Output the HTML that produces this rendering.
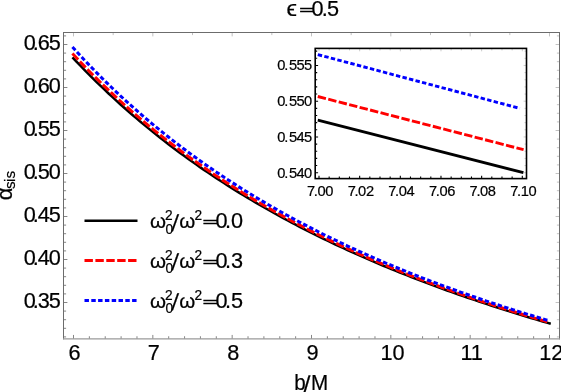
<!DOCTYPE html><html><head><meta charset="utf-8"><style>html,body{margin:0;padding:0;background:#fff}body{width:561px;height:392px;overflow:hidden}svg{will-change:transform}</style></head><body><svg width="561" height="392" viewBox="0 0 561 392" style="display:block;font-family:'Liberation Sans',sans-serif">
<rect width="561" height="392" fill="#fff"/>
<path d="M73.50,338.85 v-3.90 M89.37,338.85 v-2.60 M105.23,338.85 v-2.60 M121.10,338.85 v-2.60 M136.97,338.85 v-2.60 M152.83,338.85 v-3.90 M168.70,338.85 v-2.60 M184.57,338.85 v-2.60 M200.43,338.85 v-2.60 M216.30,338.85 v-2.60 M232.17,338.85 v-3.90 M248.03,338.85 v-2.60 M263.90,338.85 v-2.60 M279.77,338.85 v-2.60 M295.63,338.85 v-2.60 M311.50,338.85 v-3.90 M327.37,338.85 v-2.60 M343.23,338.85 v-2.60 M359.10,338.85 v-2.60 M374.97,338.85 v-2.60 M390.83,338.85 v-3.90 M406.70,338.85 v-2.60 M422.57,338.85 v-2.60 M438.43,338.85 v-2.60 M454.30,338.85 v-2.60 M470.16,338.85 v-3.90 M486.03,338.85 v-2.60 M501.90,338.85 v-2.60 M517.76,338.85 v-2.60 M533.63,338.85 v-2.60 M549.50,338.85 v-3.90 M63.50,336.90 h2.60 M63.50,328.30 h2.60 M63.50,319.70 h2.60 M63.50,311.10 h2.60 M63.50,302.50 h3.90 M63.50,293.90 h2.60 M63.50,285.30 h2.60 M63.50,276.70 h2.60 M63.50,268.10 h2.60 M63.50,259.50 h3.90 M63.50,250.90 h2.60 M63.50,242.30 h2.60 M63.50,233.70 h2.60 M63.50,225.10 h2.60 M63.50,216.50 h3.90 M63.50,207.90 h2.60 M63.50,199.30 h2.60 M63.50,190.70 h2.60 M63.50,182.10 h2.60 M63.50,173.50 h3.90 M63.50,164.90 h2.60 M63.50,156.30 h2.60 M63.50,147.70 h2.60 M63.50,139.10 h2.60 M63.50,130.50 h3.90 M63.50,121.90 h2.60 M63.50,113.30 h2.60 M63.50,104.70 h2.60 M63.50,96.10 h2.60 M63.50,87.50 h3.90 M63.50,78.90 h2.60 M63.50,70.30 h2.60 M63.50,61.70 h2.60 M63.50,53.10 h2.60 M63.50,44.50 h3.90 M63.50,35.90 h2.60" stroke="#444" stroke-width="0.65" fill="none"/>
<path d="M73.50,32.50 v3.90 M113.17,32.50 v2.60 M152.83,32.50 v3.90 M192.50,32.50 v2.60 M232.17,32.50 v3.90 M271.83,32.50 v2.60 M311.50,32.50 v3.90 M351.17,32.50 v2.60 M390.83,32.50 v3.90 M430.50,32.50 v2.60 M470.16,32.50 v3.90 M509.83,32.50 v2.60 M549.50,32.50 v3.90 M559.50,336.90 h-2.60 M559.50,328.30 h-2.60 M559.50,319.70 h-2.60 M559.50,311.10 h-2.60 M559.50,302.50 h-3.90 M559.50,293.90 h-2.60 M559.50,285.30 h-2.60 M559.50,276.70 h-2.60 M559.50,268.10 h-2.60 M559.50,259.50 h-3.90 M559.50,250.90 h-2.60 M559.50,242.30 h-2.60 M559.50,233.70 h-2.60 M559.50,225.10 h-2.60 M559.50,216.50 h-3.90 M559.50,207.90 h-2.60 M559.50,199.30 h-2.60 M559.50,190.70 h-2.60 M559.50,182.10 h-2.60 M559.50,173.50 h-3.90 M559.50,164.90 h-2.60 M559.50,156.30 h-2.60 M559.50,147.70 h-2.60 M559.50,139.10 h-2.60 M559.50,130.50 h-3.90 M559.50,121.90 h-2.60 M559.50,113.30 h-2.60 M559.50,104.70 h-2.60 M559.50,96.10 h-2.60 M559.50,87.50 h-3.90 M559.50,78.90 h-2.60 M559.50,70.30 h-2.60 M559.50,61.70 h-2.60 M559.50,53.10 h-2.60 M559.50,44.50 h-3.90 M559.50,35.90 h-2.60" stroke="#777" stroke-width="0.45" fill="none"/>
<path d="M63.50,32.00 V339.35 M559.50,32.00 V339.35 M63.00,32.50 H560.00" stroke="#6c6c6c" stroke-width="1" fill="none"/>
<path d="M63.00,338.85 H560.00" stroke="#9a9a9a" stroke-width="1.2" fill="none"/>
<path d="M72.43,57.30 L76.42,61.53 L80.40,65.70 L84.39,69.81 L88.37,73.86 L92.36,77.85 L96.35,81.78 L100.33,85.65 L104.32,89.47 L108.30,93.24 L112.29,96.95 L116.28,100.61 L120.26,104.22 L124.25,107.78 L128.24,111.29 L132.22,114.76 L136.21,118.17 L140.19,121.54 L144.18,124.87 L148.17,128.15 L152.15,131.38 L156.14,134.58 L160.12,137.73 L164.11,140.84 L168.10,143.91 L172.08,146.94 L176.07,149.94 L180.06,152.89 L184.04,155.81 L188.03,158.69 L192.01,161.53 L196.00,164.34 L199.99,167.12 L203.97,169.86 L207.96,172.56 L211.94,175.24 L215.93,177.88 L219.92,180.49 L223.90,183.07 L227.89,185.62 L231.88,188.13 L235.86,190.62 L239.85,193.08 L243.83,195.51 L247.82,197.91 L251.81,200.29 L255.79,202.64 L259.78,204.96 L263.76,207.25 L267.75,209.52 L271.74,211.77 L275.72,213.98 L279.71,216.18 L283.70,218.35 L287.68,220.49 L291.67,222.62 L295.65,224.72 L299.64,226.79 L303.63,228.85 L307.61,230.88 L311.60,232.89 L315.58,234.88 L319.57,236.85 L323.56,238.80 L327.54,240.73 L331.53,242.63 L335.52,244.52 L339.50,246.39 L343.49,248.24 L347.47,250.07 L351.46,251.88 L355.45,253.68 L359.43,255.45 L363.42,257.21 L367.40,258.95 L371.39,260.68 L375.38,262.38 L379.36,264.07 L383.35,265.75 L387.34,267.40 L391.32,269.04 L395.31,270.67 L399.29,272.28 L403.28,273.88 L407.27,275.45 L411.25,277.02 L415.24,278.57 L419.22,280.10 L423.21,281.63 L427.20,283.13 L431.18,284.63 L435.17,286.11 L439.16,287.57 L443.14,289.02 L447.13,290.46 L451.11,291.89 L455.10,293.30 L459.09,294.70 L463.07,296.09 L467.06,297.47 L471.04,298.83 L475.03,300.18 L479.02,301.52 L483.00,302.85 L486.99,304.17 L490.98,305.48 L494.96,306.77 L498.95,308.05 L502.93,309.33 L506.92,310.59 L510.91,311.84 L514.89,313.08 L518.88,314.31 L522.86,315.53 L526.85,316.74 L530.84,317.94 L534.82,319.13 L538.81,320.30 L542.80,321.47 L546.78,322.63 L550.77,323.79" fill="none" stroke="#000" stroke-width="2.50"/>
<path d="M72.43,53.48 L76.39,57.75 L80.34,61.95 L84.30,66.09 L88.26,70.17 L92.21,74.19 L96.17,78.15 L100.13,82.05 L104.09,85.90 L108.04,89.69 L112.00,93.43 L115.96,97.12 L119.91,100.75 L123.87,104.34 L127.83,107.88 L131.78,111.36 L135.74,114.80 L139.70,118.20 L143.66,121.55 L147.61,124.85 L151.57,128.11 L155.53,131.33 L159.48,134.50 L163.44,137.63 L167.40,140.73 L171.36,143.78 L175.31,146.79 L179.27,149.77 L183.23,152.71 L187.18,155.61 L191.14,158.47 L195.10,161.30 L199.06,164.09 L203.01,166.85 L206.97,169.58 L210.93,172.27 L214.88,174.93 L218.84,177.56 L222.80,180.15 L226.75,182.72 L230.71,185.26 L234.67,187.76 L238.63,190.24 L242.58,192.68 L246.54,195.10 L250.50,197.49 L254.45,199.86 L258.41,202.20 L262.37,204.51 L266.33,206.79 L270.28,209.05 L274.24,211.28 L278.20,213.49 L282.15,215.68 L286.11,217.84 L290.07,219.97 L294.02,222.09 L297.98,224.18 L301.94,226.25 L305.90,228.29 L309.85,230.32 L313.81,232.32 L317.77,234.30 L321.72,236.26 L325.68,238.21 L329.64,240.13 L333.60,242.03 L337.55,243.91 L341.51,245.77 L345.47,247.61 L349.42,249.44 L353.38,251.24 L357.34,253.03 L361.29,254.80 L365.25,256.55 L369.21,258.29 L373.17,260.01 L377.12,261.71 L381.08,263.39 L385.04,265.06 L388.99,266.71 L392.95,268.35 L396.91,269.97 L400.87,271.58 L404.82,273.17 L408.78,274.74 L412.74,276.30 L416.69,277.85 L420.65,279.38 L424.61,280.90 L428.56,282.40 L432.52,283.89 L436.48,285.37 L440.44,286.83 L444.39,288.28 L448.35,289.71 L452.31,291.14 L456.26,292.55 L460.22,293.94 L464.18,295.33 L468.14,296.70 L472.09,298.06 L476.05,299.41 L480.01,300.75 L483.96,302.08 L487.92,303.39 L491.88,304.69 L495.83,305.99 L499.79,307.27 L503.75,308.54 L507.71,309.80 L511.66,311.04 L515.62,312.28 L519.58,313.51 L523.53,314.73 L527.49,315.93 L531.45,317.13 L535.41,318.32 L539.36,319.50 L543.32,320.67 L547.28,321.82" fill="none" stroke="#f00" stroke-width="3.00" stroke-dasharray="8.4 2.5"/>
<path d="M72.43,46.96 L76.40,51.35 L80.38,55.67 L84.35,59.93 L88.33,64.13 L92.30,68.26 L96.27,72.33 L100.25,76.34 L104.22,80.30 L108.20,84.19 L112.17,88.03 L116.15,91.82 L120.12,95.55 L124.09,99.23 L128.07,102.86 L132.04,106.44 L136.02,109.96 L139.99,113.44 L143.97,116.88 L147.94,120.26 L151.91,123.60 L155.89,126.90 L159.86,130.15 L163.84,133.35 L167.81,136.52 L171.79,139.64 L175.76,142.73 L179.73,145.77 L183.71,148.78 L187.68,151.74 L191.66,154.67 L195.63,157.56 L199.61,160.42 L203.58,163.24 L207.55,166.02 L211.53,168.77 L215.50,171.49 L219.48,174.17 L223.45,176.82 L227.42,179.44 L231.40,182.03 L235.37,184.59 L239.35,187.11 L243.32,189.61 L247.30,192.08 L251.27,194.51 L255.24,196.92 L259.22,199.31 L263.19,201.66 L267.17,203.99 L271.14,206.29 L275.12,208.57 L279.09,210.82 L283.06,213.04 L287.04,215.24 L291.01,217.42 L294.99,219.57 L298.96,221.70 L302.94,223.81 L306.91,225.89 L310.88,227.95 L314.86,229.99 L318.83,232.00 L322.81,234.00 L326.78,235.97 L330.76,237.93 L334.73,239.86 L338.70,241.77 L342.68,243.67 L346.65,245.54 L350.63,247.39 L354.60,249.23 L358.58,251.05 L362.55,252.84 L366.52,254.62 L370.50,256.39 L374.47,258.13 L378.45,259.86 L382.42,261.57 L386.39,263.27 L390.37,264.94 L394.34,266.60 L398.32,268.25 L402.29,269.88 L406.27,271.49 L410.24,273.09 L414.21,274.68 L418.19,276.24 L422.16,277.80 L426.14,279.34 L430.11,280.86 L434.09,282.37 L438.06,283.87 L442.03,285.35 L446.01,286.82 L449.98,288.28 L453.96,289.72 L457.93,291.15 L461.91,292.57 L465.88,293.97 L469.85,295.36 L473.83,296.74 L477.80,298.11 L481.78,299.46 L485.75,300.81 L489.73,302.14 L493.70,303.46 L497.67,304.77 L501.65,306.06 L505.62,307.35 L509.60,308.62 L513.57,309.89 L517.55,311.14 L521.52,312.38 L525.49,313.62 L529.47,314.84 L533.44,316.05 L537.42,317.25 L541.39,318.45 L545.37,319.63 L549.34,320.80" fill="none" stroke="#00f" stroke-width="3.00" stroke-dasharray="4.45 2.35"/>
<rect x="315.2" y="48.4" width="211.3" height="130.2" fill="#fff" stroke="none"/>
<path d="M317.8,120.1 L523.4,172.7" fill="none" stroke="#000" stroke-width="2.90"/>
<path d="M317.8,96.5 L523.6,149.7" fill="none" stroke="#f00" stroke-width="2.90" stroke-dasharray="8.4 2.4"/>
<path d="M317.8,54.6 L519.8,108.35" fill="none" stroke="#00f" stroke-width="2.90" stroke-dasharray="4.42 2.32"/>
<path d="M319.00,178.60 v-2.90 M329.16,178.60 v-2.00 M339.33,178.60 v-2.00 M349.49,178.60 v-2.00 M359.66,178.60 v-2.90 M369.83,178.60 v-2.00 M379.99,178.60 v-2.00 M390.16,178.60 v-2.00 M400.32,178.60 v-2.90 M410.48,178.60 v-2.00 M420.65,178.60 v-2.00 M430.81,178.60 v-2.00 M440.98,178.60 v-2.90 M451.15,178.60 v-2.00 M461.31,178.60 v-2.00 M471.48,178.60 v-2.00 M481.64,178.60 v-2.90 M491.80,178.60 v-2.00 M501.97,178.60 v-2.00 M512.13,178.60 v-2.00 M522.30,178.60 v-2.90 M315.20,172.70 h2.90 M315.20,165.55 h2.00 M315.20,158.40 h2.00 M315.20,151.25 h2.00 M315.20,144.10 h2.00 M315.20,136.95 h2.90 M315.20,129.80 h2.00 M315.20,122.65 h2.00 M315.20,115.50 h2.00 M315.20,108.35 h2.00 M315.20,101.20 h2.90 M315.20,94.05 h2.00 M315.20,86.90 h2.00 M315.20,79.75 h2.00 M315.20,72.60 h2.00 M315.20,65.45 h2.90 M315.20,58.30 h2.00 M315.20,51.15 h2.00" stroke="#000" stroke-width="1.1" fill="none"/>
<path d="M319.00,48.40 v2.90 M329.16,48.40 v2.00 M339.33,48.40 v2.00 M349.49,48.40 v2.00 M359.66,48.40 v2.90 M369.83,48.40 v2.00 M379.99,48.40 v2.00 M390.16,48.40 v2.00 M400.32,48.40 v2.90 M410.48,48.40 v2.00 M420.65,48.40 v2.00 M430.81,48.40 v2.00 M440.98,48.40 v2.90 M451.15,48.40 v2.00 M461.31,48.40 v2.00 M471.48,48.40 v2.00 M481.64,48.40 v2.90 M491.80,48.40 v2.00 M501.97,48.40 v2.00 M512.13,48.40 v2.00 M522.30,48.40 v2.90 M526.50,172.70 h-2.90 M526.50,165.55 h-2.00 M526.50,158.40 h-2.00 M526.50,151.25 h-2.00 M526.50,144.10 h-2.00 M526.50,136.95 h-2.90 M526.50,129.80 h-2.00 M526.50,122.65 h-2.00 M526.50,115.50 h-2.00 M526.50,108.35 h-2.00 M526.50,101.20 h-2.90 M526.50,94.05 h-2.00 M526.50,86.90 h-2.00 M526.50,79.75 h-2.00 M526.50,72.60 h-2.00 M526.50,65.45 h-2.90 M526.50,58.30 h-2.00 M526.50,51.15 h-2.00" stroke="#999" stroke-width="0.5" fill="none"/>
<rect x="315.2" y="48.4" width="211.3" height="130.2" fill="none" stroke="#000" stroke-width="1.6"/>
<path d="M84.5,220.8 H137.5" stroke="#000" stroke-width="2.5"/>
<path d="M84.5,260.6 H137.5" stroke="#f00" stroke-width="3.0" stroke-dasharray="8.4 2.5"/>
<path d="M84.5,300.4 H137.5" stroke="#00f" stroke-width="3.0" stroke-dasharray="4.45 2.35"/>
<g stroke="#000" stroke-width="0.22">
<text transform="translate(0,308.20) scale(0.960,1.000)" x="24.69 34.06 39.27 50.73" y="0" font-size="22.60" text-anchor="start" >0.35</text>
<text transform="translate(0,265.20) scale(0.960,1.000)" x="24.69 34.06 39.27 50.73" y="0" font-size="22.60" text-anchor="start" >0.40</text>
<text transform="translate(0,222.20) scale(0.960,1.000)" x="24.69 34.06 39.27 50.73" y="0" font-size="22.60" text-anchor="start" >0.45</text>
<text transform="translate(0,179.20) scale(0.960,1.000)" x="24.69 34.06 39.27 50.73" y="0" font-size="22.60" text-anchor="start" >0.50</text>
<text transform="translate(0,136.20) scale(0.960,1.000)" x="24.69 34.06 39.27 50.73" y="0" font-size="22.60" text-anchor="start" >0.55</text>
<text transform="translate(0,93.20) scale(0.960,1.000)" x="24.69 34.06 39.27 50.73" y="0" font-size="22.60" text-anchor="start" >0.60</text>
<text transform="translate(0,50.20) scale(0.960,1.000)" x="24.69 34.06 39.27 50.73" y="0" font-size="22.60" text-anchor="start" >0.65</text>
<text transform="translate(0,360.40) scale(0.960,1.000)" x="77.60" y="0" font-size="22.60" text-anchor="middle" >6</text>
<text transform="translate(0,360.40) scale(0.960,1.000)" x="160.21" y="0" font-size="22.60" text-anchor="middle" >7</text>
<text transform="translate(0,360.40) scale(0.960,1.000)" x="242.92" y="0" font-size="22.60" text-anchor="middle" >8</text>
<text transform="translate(0,360.40) scale(0.960,1.000)" x="325.52" y="0" font-size="22.60" text-anchor="middle" >9</text>
<text transform="translate(0,360.40) scale(0.960,1.000)" x="396.46 408.85" y="0" font-size="22.60" text-anchor="start" >10</text>
<text transform="translate(0,360.40) scale(0.960,1.000)" x="479.58 490.42" y="0" font-size="22.60" text-anchor="start" >11</text>
<text transform="translate(0,360.40) scale(0.960,1.000)" x="561.77 574.17" y="0" font-size="22.60" text-anchor="start" >12</text>
<text transform="translate(0,177.60) scale(0.960,1.000)" x="288.85 296.15 300.94 308.75 316.77" y="0" font-size="15.30" text-anchor="start" >0.540</text>
<text transform="translate(0,141.85) scale(0.960,1.000)" x="288.85 296.15 300.94 308.75 316.77" y="0" font-size="15.30" text-anchor="start" >0.545</text>
<text transform="translate(0,106.10) scale(0.960,1.000)" x="288.85 296.15 300.94 308.75 316.77" y="0" font-size="15.30" text-anchor="start" >0.550</text>
<text transform="translate(0,70.35) scale(0.960,1.000)" x="288.85 296.15 300.94 308.75 316.77" y="0" font-size="15.30" text-anchor="start" >0.555</text>
<text transform="translate(0,196.00) scale(0.960,1.000)" x="319.79 326.88 330.62 338.75" y="0" font-size="15.30" text-anchor="start" >7.00</text>
<text transform="translate(0,196.00) scale(0.960,1.000)" x="362.19 369.27 373.02 381.15" y="0" font-size="15.30" text-anchor="start" >7.02</text>
<text transform="translate(0,196.00) scale(0.960,1.000)" x="404.48 411.56 415.31 423.44" y="0" font-size="15.30" text-anchor="start" >7.04</text>
<text transform="translate(0,196.00) scale(0.960,1.000)" x="446.88 453.96 457.71 465.83" y="0" font-size="15.30" text-anchor="start" >7.06</text>
<text transform="translate(0,196.00) scale(0.960,1.000)" x="489.17 496.25 500.00 508.13" y="0" font-size="15.30" text-anchor="start" >7.08</text>
<text transform="translate(0,196.00) scale(0.960,1.000)" x="531.56 538.65 542.40 550.52" y="0" font-size="15.30" text-anchor="start" >7.10</text>
<text transform="translate(0,16.20) scale(1.050,1.000)" x="272.86" y="0" font-size="22.60" text-anchor="start" >ϵ</text>
<text transform="translate(0,13.82) scale(1.394,0.740)" x="214.68" y="0" font-size="18.00" text-anchor="start"  stroke="#000" stroke-width="0.55">=</text>
<text transform="translate(0,15.60) scale(0.960,1.000)" x="324.58 335.10 340.52" y="0" font-size="22.60" text-anchor="start" >0.5</text>
<text transform="translate(0,389.70) scale(0.960,1.000)" x="306.46" y="0" font-size="21.50" text-anchor="start" >b</text><text transform="translate(303.30,392.66) skewX(-1.27)" x="0" y="0" font-size="24.50">/</text><text transform="translate(0,389.70) scale(0.960,1.000)" x="323.96" y="0" font-size="21.50" text-anchor="start" >M</text>
<g transform="translate(12.2,200.3) rotate(-90)"><text transform="translate(0,0.00) scale(1.000,1.000)" x="0.00" y="0" font-size="22.00" text-anchor="start" >α</text><text transform="translate(0,3.00) scale(1.000,1.000)" x="11.20 18.40 21.70" y="0" font-size="15.30" text-anchor="start" >sis</text></g>
<text transform="translate(0,228.10) scale(1.000,1.000)" x="150.00" y="0" font-size="20.50" text-anchor="start" >ω</text><text transform="translate(0,220.10) scale(0.960,1.000)" x="171.88" y="0" font-size="14.30" text-anchor="start" >2</text><text transform="translate(0,233.50) scale(0.960,1.000)" x="172.50" y="0" font-size="14.30" text-anchor="start" >0</text><text transform="translate(171.16,230.58) skewX(-4.93)" x="0" y="0" font-size="23.15">/</text><text transform="translate(0,228.10) scale(1.000,1.000)" x="179.30" y="0" font-size="20.50" text-anchor="start" >ω</text><text transform="translate(0,220.10) scale(0.960,1.000)" x="202.60" y="0" font-size="14.30" text-anchor="start" >2</text><text transform="translate(0,226.38) scale(1.486,0.760)" x="136.26" y="0" font-size="18.00" text-anchor="start"  stroke="#000" stroke-width="0.55">=</text><text transform="translate(0,228.10) scale(0.960,1.000)" x="224.58 234.38 240.52" y="0" font-size="22.60" text-anchor="start" >0.0</text>
<text transform="translate(0,267.90) scale(1.000,1.000)" x="150.00" y="0" font-size="20.50" text-anchor="start" >ω</text><text transform="translate(0,259.90) scale(0.960,1.000)" x="171.88" y="0" font-size="14.30" text-anchor="start" >2</text><text transform="translate(0,273.30) scale(0.960,1.000)" x="172.50" y="0" font-size="14.30" text-anchor="start" >0</text><text transform="translate(171.16,270.38) skewX(-4.93)" x="0" y="0" font-size="23.15">/</text><text transform="translate(0,267.90) scale(1.000,1.000)" x="179.30" y="0" font-size="20.50" text-anchor="start" >ω</text><text transform="translate(0,259.90) scale(0.960,1.000)" x="202.60" y="0" font-size="14.30" text-anchor="start" >2</text><text transform="translate(0,266.18) scale(1.486,0.760)" x="136.26" y="0" font-size="18.00" text-anchor="start"  stroke="#000" stroke-width="0.55">=</text><text transform="translate(0,267.90) scale(0.960,1.000)" x="224.58 234.38 240.52" y="0" font-size="22.60" text-anchor="start" >0.3</text>
<text transform="translate(0,307.70) scale(1.000,1.000)" x="150.00" y="0" font-size="20.50" text-anchor="start" >ω</text><text transform="translate(0,299.70) scale(0.960,1.000)" x="171.88" y="0" font-size="14.30" text-anchor="start" >2</text><text transform="translate(0,313.10) scale(0.960,1.000)" x="172.50" y="0" font-size="14.30" text-anchor="start" >0</text><text transform="translate(171.16,310.18) skewX(-4.93)" x="0" y="0" font-size="23.15">/</text><text transform="translate(0,307.70) scale(1.000,1.000)" x="179.30" y="0" font-size="20.50" text-anchor="start" >ω</text><text transform="translate(0,299.70) scale(0.960,1.000)" x="202.60" y="0" font-size="14.30" text-anchor="start" >2</text><text transform="translate(0,305.98) scale(1.486,0.760)" x="136.26" y="0" font-size="18.00" text-anchor="start"  stroke="#000" stroke-width="0.55">=</text><text transform="translate(0,307.70) scale(0.960,1.000)" x="224.58 234.38 240.52" y="0" font-size="22.60" text-anchor="start" >0.5</text>
</g>
</svg></body></html>
